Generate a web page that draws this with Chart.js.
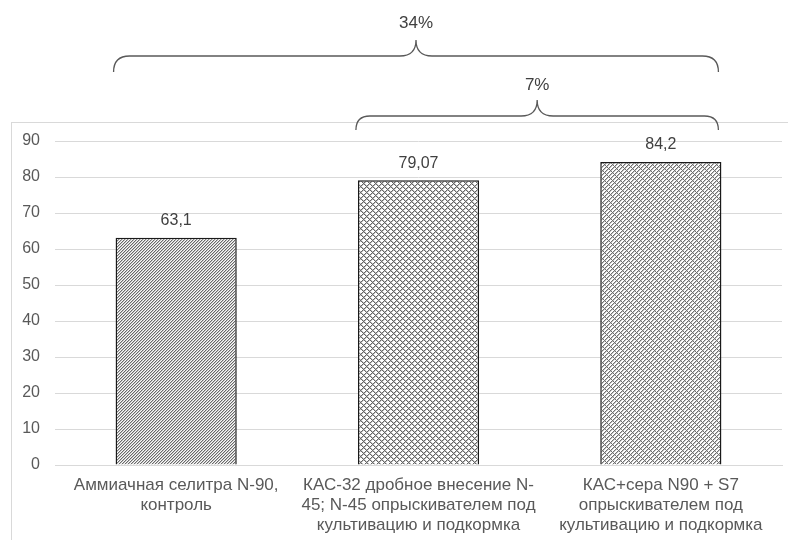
<!DOCTYPE html>
<html>
<head>
<meta charset="utf-8">
<script src="https://cdn.jsdelivr.net/npm/chart.js@4/dist/chart.umd.min.js"></script>
<style>
html,body{margin:0;padding:0;background:#fff;}
canvas{display:block;}
</style>
</head>
<body>
<canvas id="c" width="788" height="540"></canvas>
<script>
const categories = [
  ["Аммиачная селитра N-90,", "контроль"],
  ["КАС-32 дробное внесение N-", "45; N-45 опрыскивателем под", "культивацию и подкормка"],
  ["КАС+сера N90 + S7", "опрыскивателем под", "культивацию и подкормка"]
];
const values = [63.1, 79.07, 84.2];
const valueLabels = ["63,1", "79,07", "84,2"];
const yTicks = [0, 10, 20, 30, 40, 50, 60, 70, 80, 90];
const braceLabels = ["34%", "7%"];
const braceFrom = [0, 1];
const braceTo = [2, 2];

function makePattern(size, fn) {
  const c = document.createElement('canvas');
  c.width = size; c.height = size;
  const g = c.getContext('2d');
  for (let y = 0; y < size; y++) {
    for (let x = 0; x < size; x++) {
      g.fillStyle = fn(x, y);
      g.fillRect(x, y, 1, 1);
    }
  }
  return g.createPattern(c, 'repeat');
}
const ctx = document.getElementById('c').getContext('2d');
const pat1 = makePattern(3, (x, y) => {
  const k = (x + y) % 3;
  return k === 0 ? '#6a6a6a' : (k === 1 ? '#c4c4c4' : '#fafafa');
});
const pat2 = makePattern(6, (x, y) => {
  const a = (x + y) % 6, b = (x - y + 12) % 6;
  if (a === 0 || b === 0) return '#666';
  if (a === 1 || b === 1) return '#c0c0c0';
  return '#fff';
});
const pat3 = makePattern(8, (x, y) => {
  const u = (x + y) % 4, v = (x - y + 16) % 8;
  if (u === 0 || v === 0) return '#707070';
  if (u === 1) return '#c4c4c4';
  return '#fff';
});

const overlay = {
  id: 'overlay',
  beforeDraw(chart) {
    const g = chart.ctx;
    g.save();
    g.strokeStyle = '#d9d9d9';
    g.lineWidth = 1;
    g.strokeRect(11.5, 122.5, 800, 500);
    g.restore();
  },
  afterDraw(chart) {
    const g = chart.ctx;
    const meta = chart.getDatasetMeta(0);
    g.save();
    g.font = '16px "Liberation Sans", Arial, sans-serif';
    g.fillStyle = '#404040';
    g.textAlign = 'center';
    g.textBaseline = 'bottom';
    meta.data.forEach((bar, i) => {
      g.fillText(valueLabels[i], bar.x, bar.y - 9);
    });
    const braceY = [{t: 23, tip: 40, h: 56, e: 72}, {t: 85, tip: 100, h: 116, e: 130}];
    braceLabels.forEach((lab, i) => {
      const b1 = meta.data[braceFrom[i]], b2 = meta.data[braceTo[i]];
      const x1 = b1.x - b1.width / 2 - 2, x2 = b2.x + b2.width / 2 - 3;
      const mid = (x1 + x2) / 2;
      const Y = braceY[i];
      const r = Y.e - Y.h;
      const r2 = Y.h - Y.tip;
      g.strokeStyle = '#595959';
      g.lineWidth = 1.3;
      g.beginPath();
      g.moveTo(x1, Y.e);
      g.quadraticCurveTo(x1, Y.h, x1 + r, Y.h);
      g.lineTo(mid - r2, Y.h);
      g.quadraticCurveTo(mid, Y.h, mid, Y.tip);
      g.quadraticCurveTo(mid, Y.h, mid + r2, Y.h);
      g.lineTo(x2 - r, Y.h);
      g.quadraticCurveTo(x2, Y.h, x2, Y.e);
      g.stroke();
      g.font = '17px "Liberation Sans", Arial, sans-serif';
      g.fillStyle = '#404040';
      g.textBaseline = 'middle';
      g.fillText(lab, mid, Y.t);
    });
    g.restore();
  }
};

new Chart(ctx, {
  type: 'bar',
  data: {
    labels: categories,
    datasets: [{
      data: values,
      backgroundColor: [pat1, pat2, pat3],
      borderColor: '#1a1a1a',
      borderWidth: 1.5,
      barPercentage: 0.5,
      categoryPercentage: 1.0
    }]
  },
  options: {
    responsive: false,
    animation: false,
    layout: { padding: { top: 141, left: 0, right: 6, bottom: 0 } },
    plugins: { legend: { display: false }, tooltip: { enabled: false } },
    scales: {
      x: {
        grid: { display: false, drawTicks: false },
        border: { display: true, color: '#d9d9d9' },
        ticks: {
          color: '#595959',
          padding: 10,
          maxRotation: 0,
          autoSkip: false,
          font: { family: '"Liberation Sans", Arial, sans-serif', size: 17, lineHeight: '20px' }
        },
        afterFit(s) { s.height = 75; }
      },
      y: {
        min: 0, max: 90,
        afterBuildTicks(s) { s.ticks = yTicks.map(v => ({ value: v })); },
        grid: { color: '#d9d9d9', drawTicks: false },
        border: { display: false },
        ticks: {
          color: '#595959',
          padding: 15,
          font: { family: '"Liberation Sans", Arial, sans-serif', size: 16 }
        },
        afterFit(s) { s.width = 55; }
      }
    }
  },
  plugins: [overlay]
});
</script>
</body>
</html>
